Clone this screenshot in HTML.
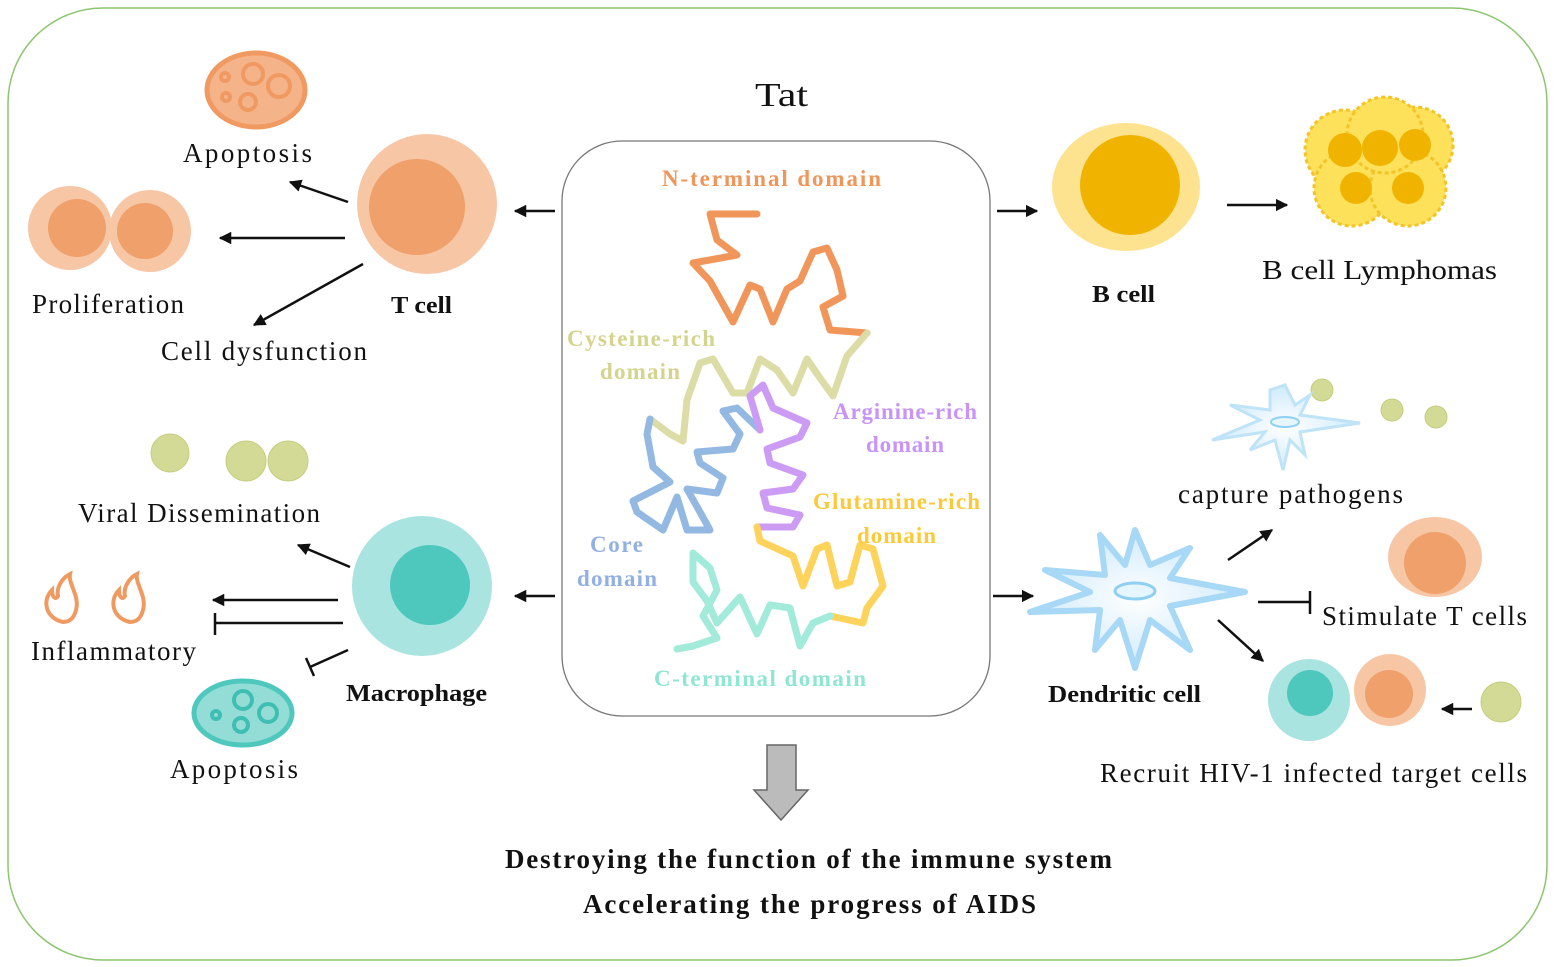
<!DOCTYPE html>
<html><head><meta charset="utf-8"><style>
html,body{margin:0;padding:0;background:#fff}
svg{display:block}
text{font-family:"Liberation Serif",serif;fill:#111}
</style></head><body>
<svg width="1555" height="967" viewBox="0 0 1555 967" xmlns="http://www.w3.org/2000/svg">
<defs>
<marker id="ar" viewBox="0 0 10 10" refX="9" refY="5" markerWidth="5" markerHeight="5" orient="auto"><path d="M0,0 L10,5 L0,10 Z" fill="#111"/></marker>
<radialGradient id="dc" cx="50%" cy="50%" r="50%"><stop offset="0" stop-color="#ffffff"/><stop offset="1" stop-color="#cfeafb"/></radialGradient>
</defs>
<rect x="8" y="8" width="1539" height="952" rx="95" fill="none" stroke="#8cc56e" stroke-width="1.5"/>
<rect x="562" y="141" width="428" height="575" rx="60" fill="none" stroke="#777" stroke-width="1.3"/>
<text x="755" y="106" font-size="34" textLength="53" lengthAdjust="spacingAndGlyphs">Tat</text>

<g fill="none" stroke-width="7" stroke-linecap="round" stroke-linejoin="round">
<polyline stroke="#f0965a" points="757,214 710,214 717,240 737,255 693,263 710,281 733,322 750,285 760,289 773,322 787,289 800,281 813,252 827,248 837,270 843,296 823,307 830,330 867,333"/>
<polyline stroke="#dbdca6" points="867,333 847,356 833,396 820,378 807,359 793,393 777,370 760,359 747,393 733,393 713,359 700,363 687,400 683,441 670,434 650,419"/>
<polyline stroke="#93b8e2" points="650,419 647,434 653,467 670,482 633,501 637,512 663,530 677,497 687,530 710,530 700,512 687,489 717,493 723,478 700,463 697,452 733,449 740,434 723,411 737,408 760,430"/>
<polyline stroke="#cc9cf5" points="760,430 750,396 763,385 773,408 807,423 800,437 767,449 770,463 803,475 793,489 763,493 767,508 800,515 793,527 757,527"/>
<polyline stroke="#fdd35c" points="757,527 760,541 793,556 803,586 817,549 827,545 837,586 850,582 860,545 873,549 883,586 867,608 863,623 830,616"/>
<polyline stroke="#a2ead9" points="830,616 813,623 800,646 790,608 770,605 757,634 740,597 717,623 707,601 693,582 693,553 710,568 717,590 703,616 717,638 693,646 677,649"/>
</g>
<g font-weight="bold" font-size="23" lengthAdjust="spacingAndGlyphs">
<text x="662" y="186" textLength="219" style="fill:#f0965a">N-terminal   domain</text>
<text x="567" y="346" textLength="148" style="fill:#d3d48e">Cysteine-rich</text>
<text x="600" y="379" textLength="80" style="fill:#d3d48e">domain</text>
<text x="833" y="419" textLength="144" style="fill:#c894f5">Arginine-rich</text>
<text x="866" y="452" textLength="78" style="fill:#c894f5">domain</text>
<text x="813" y="509" textLength="167" style="fill:#fcc93a">Glutamine-rich</text>
<text x="857" y="543" textLength="79" style="fill:#fcc93a">domain</text>
<text x="590" y="552" textLength="53" style="fill:#93b0e2">Core</text>
<text x="577" y="586" textLength="80" style="fill:#93b0e2">domain</text>
<text x="654" y="686" textLength="212" style="fill:#8fe6d2">C-terminal  domain</text>
</g>

<circle cx="427" cy="204" r="70" fill="#f7c6a5"/>
<circle cx="417" cy="207" r="48" fill="#f0a06a"/>
<circle cx="70" cy="228" r="42" fill="#f7c6a5"/><circle cx="77" cy="228" r="29" fill="#f0a06a"/>
<circle cx="150" cy="231" r="41" fill="#f7c6a5"/><circle cx="145" cy="231" r="28" fill="#f0a06a"/>
<ellipse cx="256" cy="90" rx="49" ry="37" fill="#f5b389" stroke="#f09a62" stroke-width="5"/>
<g fill="none" stroke="#f09a62" stroke-width="4"><circle cx="253" cy="74" r="10"/><circle cx="279" cy="86" r="11"/><circle cx="248" cy="102" r="8"/><circle cx="225" cy="77" r="4"/><circle cx="226" cy="97" r="4"/></g>
<g fill="none" stroke="#111" stroke-width="2.5" marker-end="url(#ar)">
<line x1="348" y1="202" x2="290" y2="182"/><line x1="345" y1="238" x2="220" y2="238"/><line x1="363" y1="264" x2="254" y2="325"/>
<line x1="555" y1="211" x2="515" y2="211"/><line x1="997" y1="211" x2="1037" y2="211"/><line x1="1227" y1="205" x2="1287" y2="205"/>
<line x1="555" y1="596" x2="515" y2="596"/><line x1="350" y1="567" x2="298" y2="545"/><line x1="338" y1="600" x2="213" y2="600"/>
<line x1="993" y1="596" x2="1033" y2="596"/><line x1="1228" y1="560" x2="1272" y2="530"/><line x1="1218" y1="620" x2="1263" y2="661"/><line x1="1472" y1="709" x2="1442" y2="709"/>
</g>
<g stroke="#111" stroke-width="2.5" fill="none">
<line x1="343" y1="623" x2="215" y2="623"/><line x1="215" y1="613" x2="215" y2="635"/>
<line x1="348" y1="650" x2="310" y2="667"/><line x1="306" y1="658" x2="314" y2="676"/>
<line x1="1258" y1="602" x2="1310" y2="602"/><line x1="1310" y1="591" x2="1310" y2="614"/>
</g>
<g font-size="27" lengthAdjust="spacingAndGlyphs"><text x="183" y="162" textLength="129">Apoptosis</text><text x="32" y="313" textLength="152">Proliferation</text><text x="161" y="360" textLength="206">Cell  dysfunction</text></g>
<text x="391" y="313" font-size="24" font-weight="bold" textLength="61" lengthAdjust="spacingAndGlyphs">T cell</text>

<ellipse cx="1126" cy="187" rx="74" ry="64" fill="#fde38f"/>
<circle cx="1130" cy="185" r="50" fill="#f0b400"/>
<g fill="#fde15a" stroke="#f3c42a" stroke-width="3" stroke-dasharray="4 3">
<circle cx="1345" cy="150" r="40"/><circle cx="1415" cy="145" r="38"/><circle cx="1352" cy="188" r="38"/><circle cx="1408" cy="188" r="38"/><circle cx="1385" cy="135" r="38"/>
</g>
<g fill="#f0b400"><circle cx="1345" cy="150" r="17"/><circle cx="1415" cy="145" r="16"/><circle cx="1356" cy="188" r="16"/><circle cx="1408" cy="188" r="16"/><circle cx="1380" cy="148" r="18"/></g>
<text x="1092" y="302" font-size="24" font-weight="bold" textLength="63" lengthAdjust="spacingAndGlyphs">B cell</text>
<text x="1262" y="279" font-size="27" textLength="235" lengthAdjust="spacingAndGlyphs">B cell  Lymphomas</text>

<circle cx="422" cy="586" r="70" fill="#a9e4e0"/>
<circle cx="430" cy="585" r="40" fill="#4ec8bd"/>
<g fill="#d3da96" stroke="#c6cd7e"><circle cx="170" cy="453" r="19"/><circle cx="246" cy="461" r="20"/><circle cx="288" cy="461" r="20"/><circle cx="1322" cy="390" r="11"/><circle cx="1392" cy="410" r="11"/><circle cx="1436" cy="417" r="11"/><circle cx="1501" cy="702" r="20"/></g>
<path d="M63,622 C45,618 42,600 52,590 C52,598 56,600 58,596 C56,588 62,578 70,574 C68,584 80,596 76,610 C74,618 70,622 63,622Z" fill="none" stroke="#f09a62" stroke-width="4"/>
<path d="M130,622 C112,618 109,600 119,590 C119,598 123,600 125,596 C123,588 129,578 137,574 C135,584 147,596 143,610 C141,618 137,622 130,622Z" fill="none" stroke="#f09a62" stroke-width="4"/>
<ellipse cx="243" cy="713" rx="49" ry="32" fill="#93ddd6" stroke="#4ec8bd" stroke-width="5"/>
<g fill="none" stroke="#3fbfb3" stroke-width="4"><circle cx="243" cy="700" r="9"/><circle cx="268" cy="713" r="9"/><circle cx="241" cy="725" r="7"/><circle cx="216" cy="715" r="4"/></g>
<g font-size="27" lengthAdjust="spacingAndGlyphs"><text x="78" y="522" textLength="242">Viral  Dissemination</text><text x="31" y="660" textLength="165">Inflammatory</text><text x="170" y="778" textLength="128">Apoptosis</text></g>
<text x="346" y="701" font-size="24" font-weight="bold" textLength="141" lengthAdjust="spacingAndGlyphs">Macrophage</text>

<path d="M1135,530 L1150,565 L1190,548 L1170,578 L1245,592 L1170,606 L1190,650 L1150,620 L1135,668 L1120,620 L1095,650 L1100,610 L1030,612 L1090,592 L1045,570 L1105,575 L1100,535 L1125,565Z" fill="url(#dc)" stroke="#a7d8f5" stroke-width="6" stroke-linejoin="round"/>
<ellipse cx="1135" cy="591" rx="20" ry="8" fill="#e6f6ff" stroke="#8fcff2" stroke-width="3"/>
<path d="M1285,385 L1295,405 L1310,395 L1300,415 L1360,423 L1300,432 L1305,455 L1290,440 L1283,470 L1275,440 L1250,450 L1265,432 L1212,440 L1260,420 L1230,405 L1270,410 L1270,390Z" fill="url(#dc)" stroke="#bfe3f7" stroke-width="3"/>
<ellipse cx="1285" cy="422" rx="14" ry="5" fill="#e6f6ff" stroke="#8fcff2" stroke-width="2"/>
<ellipse cx="1435" cy="557" rx="47" ry="40" fill="#f7c6a5"/><circle cx="1435" cy="563" r="31" fill="#f0a06a"/>
<circle cx="1309" cy="700" r="41" fill="#a9e4e0"/><circle cx="1310" cy="693" r="23" fill="#4ec8bd"/>
<circle cx="1390" cy="690" r="36" fill="#f7c6a5"/><circle cx="1389" cy="694" r="24" fill="#f0a06a"/>
<g font-size="27" lengthAdjust="spacingAndGlyphs"><text x="1178" y="503" textLength="225">capture pathogens</text><text x="1322" y="625" textLength="205">Stimulate  T cells</text><text x="1100" y="782" textLength="427">Recruit HIV-1  infected  target cells</text></g>
<text x="1048" y="702" font-size="24" font-weight="bold" textLength="153" lengthAdjust="spacingAndGlyphs">Dendritic  cell</text>

<path d="M767,745 L796,745 L796,790 L808,790 L781,820 L754,790 L767,790Z" fill="#bbb" stroke="#666" stroke-width="1.5"/>
<g font-size="27" font-weight="bold" lengthAdjust="spacingAndGlyphs"><text x="505" y="868" textLength="607">Destroying the function of the immune  system</text><text x="583" y="913" textLength="453">Accelerating the progress of AIDS</text></g>
</svg>
</body></html>
